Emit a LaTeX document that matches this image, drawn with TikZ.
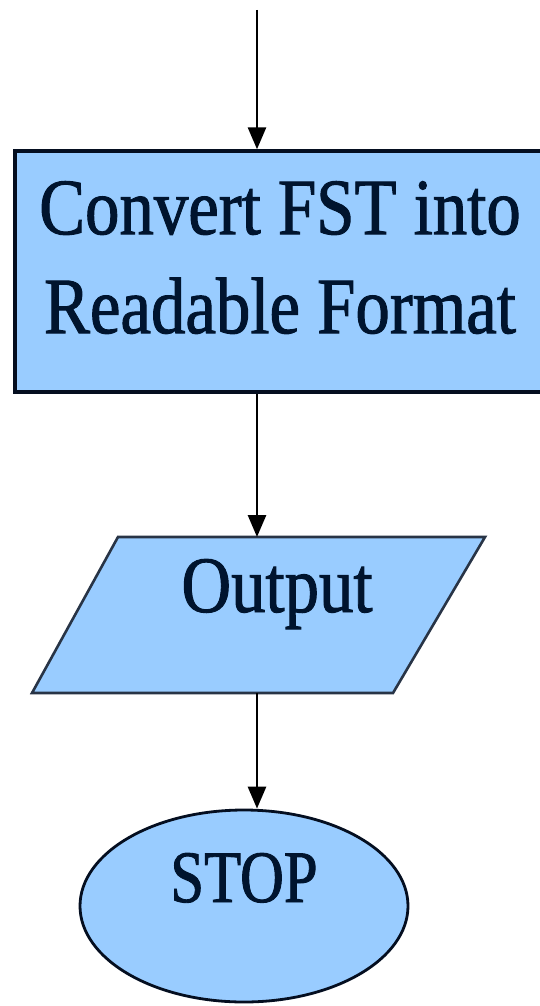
\documentclass[tikz,border=0pt]{standalone}
\usepackage{fontspec}
\usetikzlibrary{arrows.meta,shapes.geometric}
\newfontfamily\flowfont[FakeStretch=0.86,FakeBold=1.2]{Liberation Serif}
\newfontfamily\termfont[FakeStretch=0.82,FakeBold=1.2]{Liberation Serif}
\definecolor{boxfill}{RGB}{153,204,255}
\definecolor{boxline}{RGB}{4,14,32}
\definecolor{ioline}{RGB}{40,52,70}
\definecolor{ink}{RGB}{0,20,46}
\tikzset{
  flow/.style={line width=2.8pt, draw=black, -{Triangle[width=18pt,length=22pt]}},
  procbox/.style={rectangle, draw=boxline, fill=boxfill, line width=3.4pt, inner sep=0pt},
  iobox/.style={draw=ioline, fill=boxfill, line width=2.6pt, line join=miter},
  termbox/.style={ellipse, draw=boxline, fill=boxfill, line width=2.8pt, inner sep=0pt},
  boxtext/.style={text=ink, inner sep=0pt, align=center}
}
\begin{document}
\begin{tikzpicture}[x=1pt, y=-1pt]
  \useasboundingbox (0,0) rectangle (540,1006);
  \clip (0,0) rectangle (540,1006);
  \fill[white] (0,0) rectangle (540,1006);

  % common vertical axis of the flow lines
  \coordinate (axis) at (257,0);
  \coordinate (start) at (257,10);

  % process box (runs past the right edge)
  \node[procbox, minimum width=530pt, minimum height=241pt] (conv) at (280,271.5) {};
  \node[boxtext, anchor=north, font={\flowfont\fontsize{80}{99}\selectfont}] (convtxt) at (280,181)
    {Convert FST into\\Readable Format};

  % output parallelogram
  \draw[iobox] (118,537) coordinate (io-tl) -- (485,537) coordinate (io-tr)
    -- (393,693) coordinate (io-br) -- (32,693) coordinate (io-bl) -- cycle;
  \node[boxtext, anchor=base, font={\flowfont\fontsize{80}{96}\selectfont}] (out) at (277,612) {Output};

  % terminal
  \node[termbox, minimum width=328pt, minimum height=192pt, text=ink,
        font={\termfont\fontsize{74}{88}\selectfont}, text height=52pt, text depth=60pt]
        (stop) at (244,906) {STOP};

  % connectors
  \draw[flow] (start) -- (conv.north -| start);
  \draw[flow] (conv.south -| axis) -- (io-tl -| axis);
  \draw[flow] (io-bl -| axis) -- (stop.north -| axis);
\end{tikzpicture}
\end{document}
